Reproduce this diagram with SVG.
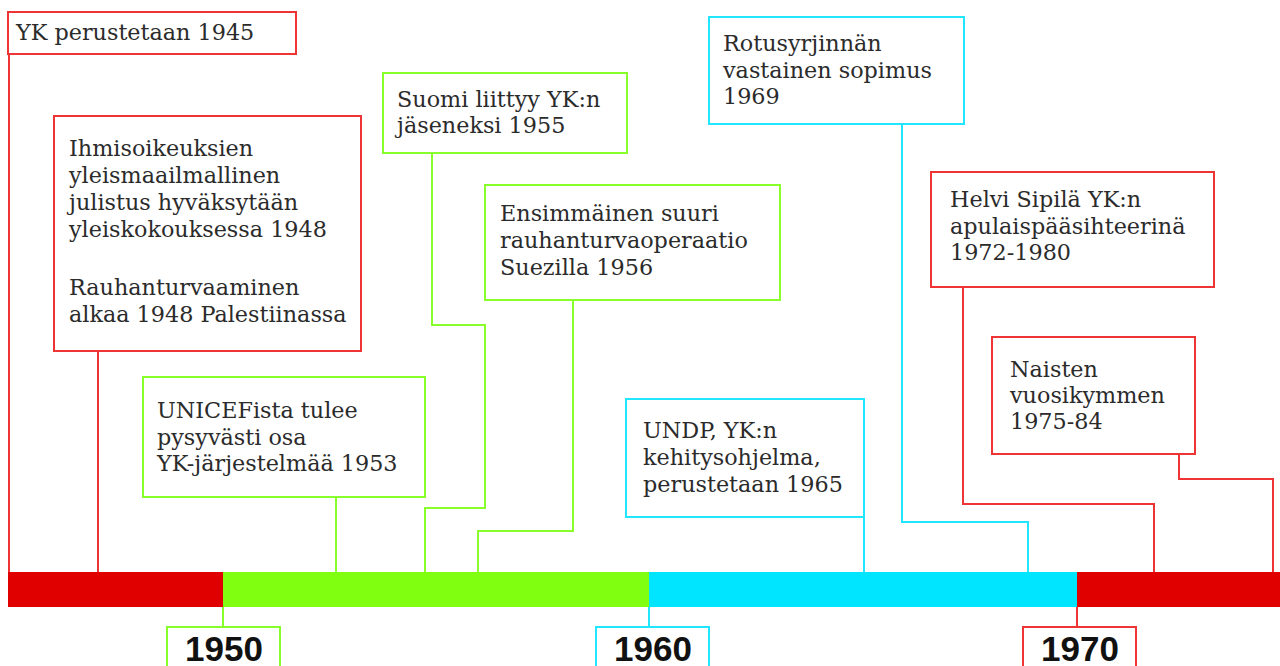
<svg xmlns="http://www.w3.org/2000/svg" width="1280" height="666" viewBox="0 0 1280 666">
<style>
  .box { fill: #ffffff; stroke-width: 2; }
  .red { stroke: #ee3434; }
  .green { stroke: #88ff2a; }
  .cyan { stroke: #22e6ff; }
  .t { font-family: "DejaVu Serif", "Liberation Serif", serif; font-size: 22.3px; fill: #2b2b2b; }
  .yr { font-family: "Liberation Sans", Arial, sans-serif; font-weight: bold; font-size: 35px; fill: #111111; text-anchor: middle; }
  .conn path { fill: none; stroke-width: 2; }
</style>
<rect width="1280" height="666" fill="#ffffff"/>

<g id="connectors" class="conn">
  <path class="red" d="M9,54 V572"/>
  <path class="red" d="M98,351 V572"/>
  <path class="green" d="M336,497 V572"/>
  <path class="green" d="M432,153 V325 H485 V508 H425 V572"/>
  <path class="green" d="M573,300 V531 H478 V572"/>
  <path class="cyan" d="M864,517 V572"/>
  <path class="cyan" d="M902,124 V522 H1028 V572"/>
  <path class="red" d="M963,287 V504 H1154 V572"/>
  <path class="red" d="M1179,454 V479 H1273 V572"/>
  <path class="green" d="M223,606 V627"/>
  <path class="cyan" d="M649,606 V627"/>
  <path class="red" d="M1077,606 V627"/>
</g>

<g id="timeline-bar">
  <rect x="8" y="572" width="215" height="35" fill="#e00000"/>
  <rect x="223" y="572" width="426" height="35" fill="#80ff10"/>
  <rect x="649" y="572" width="428" height="35" fill="#00e5ff"/>
  <rect x="1077" y="572" width="203" height="35" fill="#e00000"/>
</g>

<g id="node-1945">
  <rect class="box red" x="8" y="12" width="288" height="42"/>
  <text class="t" x="16" y="40">YK perustetaan 1945</text>
</g>

<g id="node-1948">
  <rect class="box red" x="54" y="116" width="307" height="235"/>
  <text class="t">
    <tspan x="69" y="156">Ihmisoikeuksien</tspan>
    <tspan x="69" y="183">yleismaailmallinen</tspan>
    <tspan x="69" y="210">julistus hyväksytään</tspan>
    <tspan x="69" y="237">yleiskokouksessa 1948</tspan>
    <tspan x="69" y="295">Rauhanturvaaminen</tspan>
    <tspan x="69" y="322">alkaa 1948 Palestiinassa</tspan>
  </text>
</g>

<g id="node-1953">
  <rect class="box green" x="143" y="377" width="282" height="120"/>
  <text class="t">
    <tspan x="157" y="418">UNICEFista tulee</tspan>
    <tspan x="157" y="445">pysyvästi osa</tspan>
    <tspan x="157" y="471">YK-järjestelmää 1953</tspan>
  </text>
</g>

<g id="node-1955">
  <rect class="box green" x="383" y="73" width="244" height="80"/>
  <text class="t">
    <tspan x="397" y="107">Suomi liittyy YK:n</tspan>
    <tspan x="397" y="133">jäseneksi 1955</tspan>
  </text>
</g>

<g id="node-1956">
  <rect class="box green" x="485" y="185" width="295" height="115"/>
  <text class="t">
    <tspan x="500" y="221">Ensimmäinen suuri</tspan>
    <tspan x="500" y="248">rauhanturvaoperaatio</tspan>
    <tspan x="500" y="275">Suezilla 1956</tspan>
  </text>
</g>

<g id="node-1965">
  <rect class="box cyan" x="626" y="399" width="238" height="118"/>
  <text class="t">
    <tspan x="643" y="438">UNDP, YK:n</tspan>
    <tspan x="643" y="465">kehitysohjelma,</tspan>
    <tspan x="643" y="492">perustetaan 1965</tspan>
  </text>
</g>

<g id="node-1969">
  <rect class="box cyan" x="709" y="17" width="255" height="107"/>
  <text class="t">
    <tspan x="723" y="51">Rotusyrjinnän</tspan>
    <tspan x="723" y="78">vastainen sopimus</tspan>
    <tspan x="723" y="104">1969</tspan>
  </text>
</g>

<g id="node-1972">
  <rect class="box red" x="931" y="172" width="283" height="115"/>
  <text class="t">
    <tspan x="950" y="207">Helvi Sipilä YK:n</tspan>
    <tspan x="950" y="234">apulaispääsihteerinä</tspan>
    <tspan x="950" y="260">1972-1980</tspan>
  </text>
</g>

<g id="node-1975">
  <rect class="box red" x="992" y="337" width="203" height="117"/>
  <text class="t">
    <tspan x="1010" y="377">Naisten</tspan>
    <tspan x="1010" y="403">vuosikymmen</tspan>
    <tspan x="1010" y="429">1975-84</tspan>
  </text>
</g>

<g id="year-1950">
  <rect class="box green" x="167" y="627" width="113" height="50"/>
  <text class="yr" x="224" y="661">1950</text>
</g>
<g id="year-1960">
  <rect class="box cyan" x="596" y="627" width="113" height="50"/>
  <text class="yr" x="653" y="661">1960</text>
</g>
<g id="year-1970">
  <rect class="box red" x="1023" y="627" width="113" height="50"/>
  <text class="yr" x="1080" y="661">1970</text>
</g>
</svg>
